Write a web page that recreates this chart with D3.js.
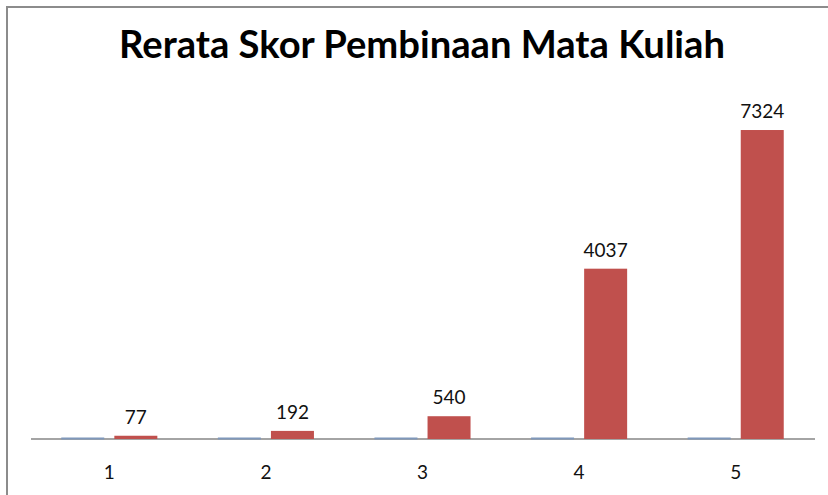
<!DOCTYPE html>
<html>
<head>
    <title>Rerata Skor Pembinaan Mata Kuliah</title>
    <script src="https://d3js.org/d3.v7.min.js"></script>
    <style>
        body { margin: 0; background: #fff; }
        svg { display: block; }
    </style>
</head>
<body>
    <div id="chart"></div>
    <script>
        var categories = ["1", "2", "3", "4", "5"];
        var seriesA = [1, 2, 3, 4, 5];           // blue series, barely visible
        var seriesB = [77, 192, 540, 4037, 7324]; // red series
        var seriesNames = ["a", "b"];
        var colors = ["#7F97BA", "#C0504D"];
        var title = "Rerata Skor Pembinaan Mata Kuliah";

        var W = 828, H = 495;
        var plotLeft = 31, plotRight = 814, plotBase = 439, plotTop = 101.5;

        var svg = d3.select("#chart").append("svg")
            .attr("width", W)
            .attr("height", H);

        // chart area frame (only left and top edges in view)
        svg.append("path")
            .attr("d", "M7," + H + "V7H" + W)
            .attr("fill", "none")
            .attr("stroke", "#8c8c8c")
            .attr("stroke-width", 2);

        var x = d3.scaleBand().domain(categories).range([plotLeft, plotRight]);
        var xs = d3.scaleBand().domain(seriesNames).range([0, x.bandwidth()])
            .paddingInner(0.19).paddingOuter(0.57);
        var y = d3.scaleLinear().domain([0, 8000]).range([plotBase, plotTop]);

        var rows = categories.map(function(c, i) {
            return {cat: c, values: [seriesA[i], seriesB[i]]};
        });

        // x axis line (drawn first, bars sit on it)
        var xAxis = svg.append("g")
            .attr("transform", "translate(0," + plotBase + ")")
            .call(d3.axisBottom(x).tickSize(0).tickPadding(0));
        xAxis.select(".domain")
            .attr("d", "M" + plotLeft + ",0H" + (plotRight + 1))
            .attr("stroke", "#868686")
            .attr("stroke-width", 1.5);
        xAxis.selectAll(".tick text")
            .attr("dy", 0)
            .attr("y", 40)
            .style("font-family", "Lato, 'Open Sans', sans-serif")
            .style("font-size", "19px")
            .style("fill", "#111");

        var g = svg.selectAll("g.cat")
            .data(rows)
            .enter().append("g")
                .attr("class", "cat")
                .attr("transform", function(d) { return "translate(" + x(d.cat) + ",0)"; });

        g.selectAll("rect")
            .data(function(d) { return d.values.map(function(v, j) { return {key: seriesNames[j], v: v, j: j}; }); })
            .enter().append("rect")
                .attr("x", function(d) { return xs(d.key); })
                .attr("width", xs.bandwidth())
                .attr("y", function(d) { return Math.min(y(d.v), plotBase - 1.5); })
                .attr("height", function(d) { return Math.max(plotBase - y(d.v), 2); })
                .attr("fill", function(d) { return colors[d.j]; });

        // value labels for red series
        g.append("text")
            .attr("x", function(d) { return xs("b") + xs.bandwidth() / 2; })
            .attr("y", function(d) { return y(d.values[1]) - 12; })
            .attr("text-anchor", "middle")
            .style("font-family", "Lato, 'Open Sans', sans-serif")
            .style("font-size", "19px")
            .style("fill", "#111")
            .text(function(d) { return d.values[1]; });

        // title, fitted to width
        var t = svg.append("text")
            .attr("x", 422)
            .attr("y", 58)
            .attr("text-anchor", "middle")
            .style("font-family", "Lato, 'Open Sans', sans-serif")
            .style("font-weight", "bold")
            .style("font-size", "36px")
            .style("fill", "#000")
            .text(title);
        var tw = t.node().getComputedTextLength();
        t.style("font-size", (36 * 606 / tw) + "px");
    </script>
</body>
</html>
